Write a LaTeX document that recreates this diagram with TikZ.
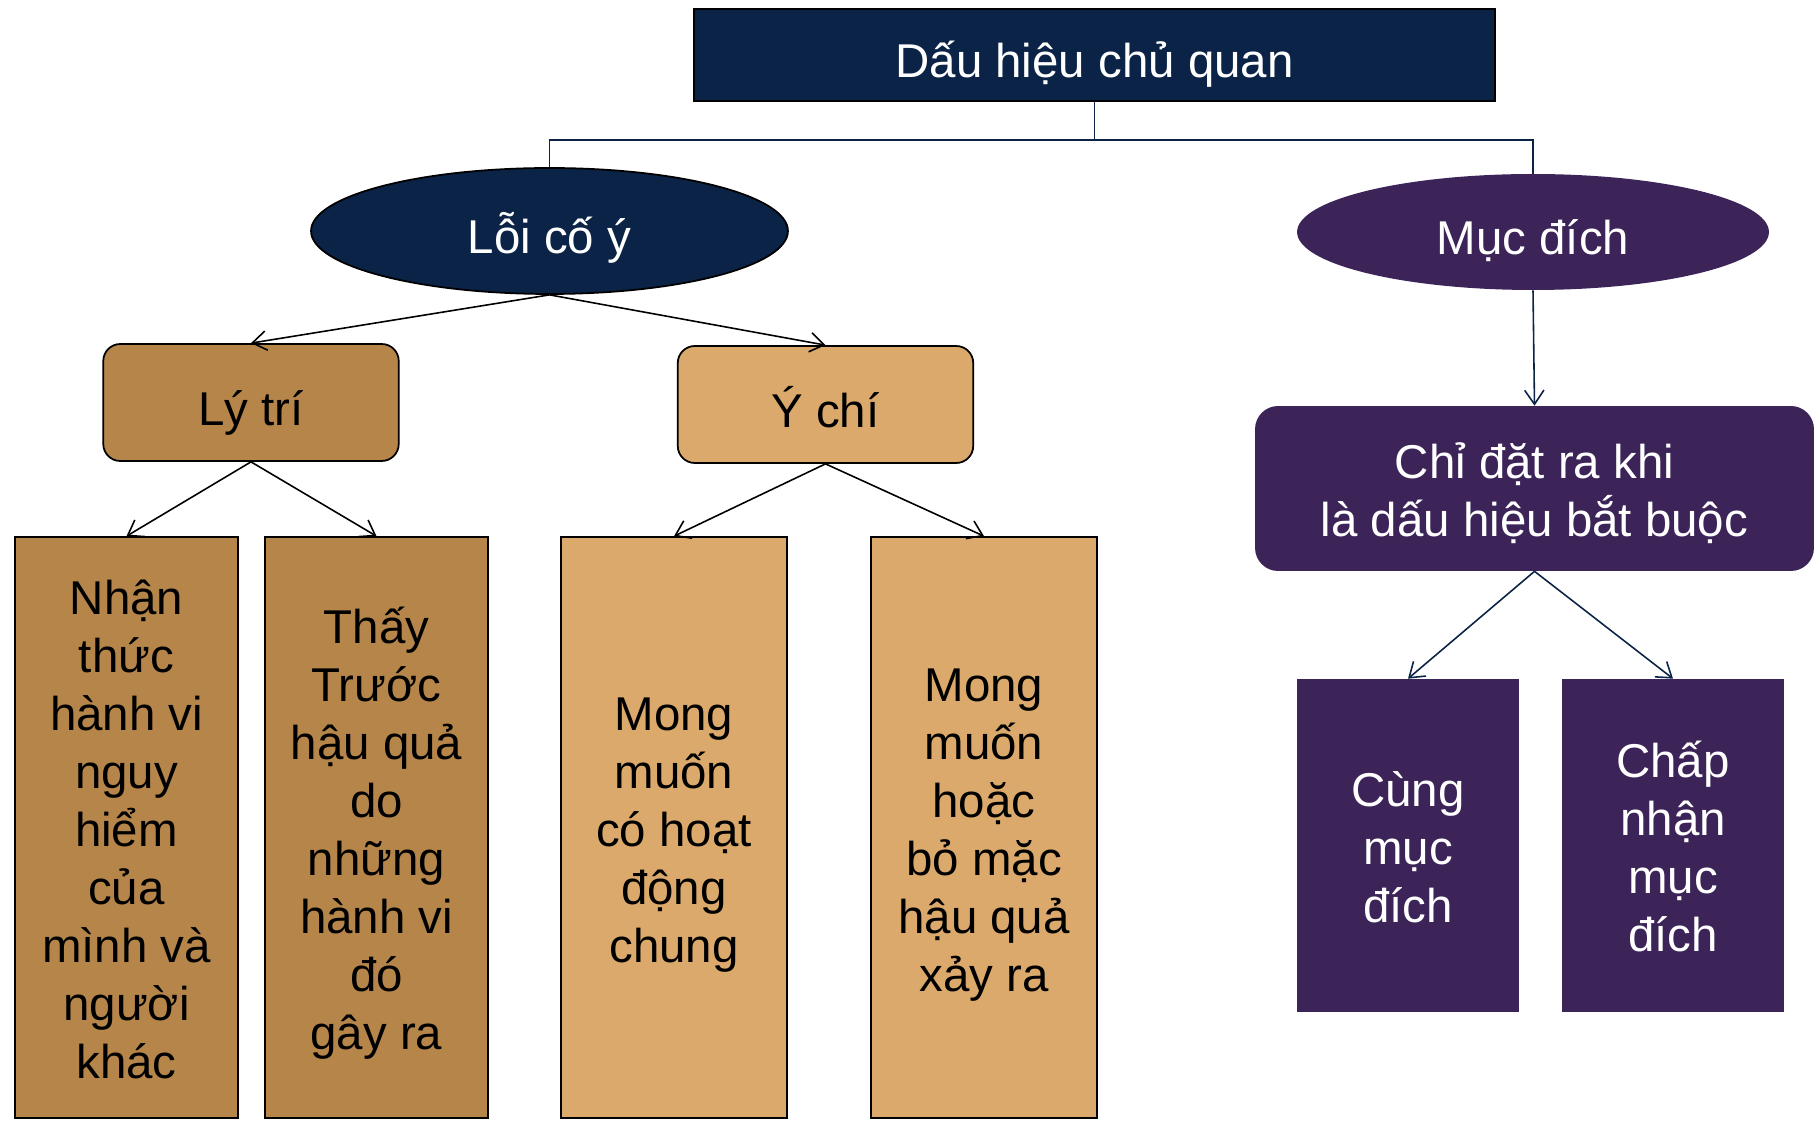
\documentclass[tikz,border=0pt]{standalone}
\usepackage{fontspec}
\setmainfont{Liberation Sans}
\usepackage{tikz}
\usetikzlibrary{positioning,arrows.meta,shapes.geometric,calc}
\definecolor{palNavy}{HTML}{0B2346}
\definecolor{palPurple}{HTML}{3C2459}
\definecolor{palTanDk}{HTML}{B5854A}
\definecolor{palTanLt}{HTML}{DBA96B}
\newcommand{\lineprop}{\rule[-8pt]{0pt}{41.8pt}}
\newcommand{\topprop}{\rule{0pt}{29.8pt}}
\newcommand{\botprop}{\rule[-8pt]{0pt}{8pt}}
\newcommand{\boxtext}[1]{\topprop#1\botprop}
\tikzset{
  bigfont/.style={font=\fontsize{27}{33}\selectfont,
                  execute at begin node=\lineprop,
                  execute at end node=\lineprop},
  multifont/.style={font=\fontsize{27}{33}\selectfont, align=center},
  rootnode/.style={draw=black, line width=1.2pt, fill=palNavy, text=white,
                   bigfont, minimum width=16.02cm, minimum height=1.84cm,
                   inner sep=0pt},
  ovalnode/.style={ellipse, text=white, bigfont, inner sep=0pt},
  catnode/.style={draw=black, line width=1pt, rounded corners=0.34cm, bigfont,
                  minimum width=5.91cm, minimum height=2.34cm, inner sep=0pt},
  leafnode/.style={draw=black, line width=1pt, multifont,
                   minimum width=4.47cm, minimum height=11.62cm, inner sep=0pt},
  purpnode/.style={fill=palPurple, text=white, multifont, inner sep=0pt},
  stdarrow/.style={-{Straight Barb[length=8pt,width=11pt]}, line width=0.9pt},
}

\begin{document}
\begin{tikzpicture}[x=0.02cm, y=-0.02cm]
\useasboundingbox (0,0) rectangle (1820,1124);

%% Root and the two ovals
\node[rootnode] (root) at (1094.5,55) {Dấu hiệu chủ quan};
\node[ovalnode, draw=black, line width=1pt, fill=palNavy,
      minimum width=9.54cm, minimum height=2.52cm] (loi) at (549.5,231) {Lỗi cố ý};
\node[ovalnode, fill=palPurple,
      minimum width=9.44cm, minimum height=2.32cm] (muc) at (1533,232) {Mục đích};

\coordinate (split) at (1094.5,140);
\draw[palNavy, line width=1pt] (root.south) -- (split);
\draw[palNavy, line width=1pt] (loi.north) |- (split) -| (muc.north);

%% Left branch
\node[catnode, fill=palTanDk] (lytri) at (251,402.5) {Lý trí};
\node[catnode, fill=palTanLt] (ychi) at (825.5,404.5) {Ý chí};

\node[leafnode, fill=palTanDk] (nhanthuc) at (126.5,827.5)
  {\boxtext{Nhận\\thức\\hành vi\\nguy\\hiểm\\của\\mình và\\người\\khác}};
\node[leafnode, fill=palTanDk] (thaytruoc) at (376.5,827.5)
  {\boxtext{Thấy\\Trước\\hậu quả\\do\\những\\hành vi\\đó\\gây ra}};
\node[leafnode, fill=palTanLt, minimum width=4.52cm] (mongmuon) at (674,827.5)
  {\boxtext{Mong\\muốn\\có hoạt\\động\\chung}};
\node[leafnode, fill=palTanLt, minimum width=4.52cm] (bomac) at (984,827.5)
  {\boxtext{Mong\\muốn\\hoặc\\bỏ mặc\\hậu quả\\xảy ra}};

\foreach \src/\dst in {loi/lytri, loi/ychi, lytri/nhanthuc, lytri/thaytruoc,
                       ychi/mongmuon, ychi/bomac} {
  \draw[stdarrow, black] (\src.south) -- (\dst.north);
}

%% Right branch
\node[purpnode, rounded corners=0.46cm, minimum width=11.18cm,
      minimum height=3.3cm] (chidat) at (1534.5,488.5)
  {\boxtext{Chỉ đặt ra khi\\là dấu hiệu bắt buộc}};
\node[purpnode, minimum width=4.44cm, minimum height=6.66cm] (cung) at (1408,845.5)
  {\boxtext{Cùng\\mục\\đích}};
\node[purpnode, minimum width=4.44cm, minimum height=6.66cm] (chapnhan) at (1673,845.5)
  {\boxtext{Chấp\\nhận\\mục\\đích}};

\foreach \src/\dst in {muc/chidat, chidat/cung, chidat/chapnhan} {
  \draw[stdarrow, palNavy] (\src.south) -- (\dst.north);
}
\end{tikzpicture}
\end{document}
